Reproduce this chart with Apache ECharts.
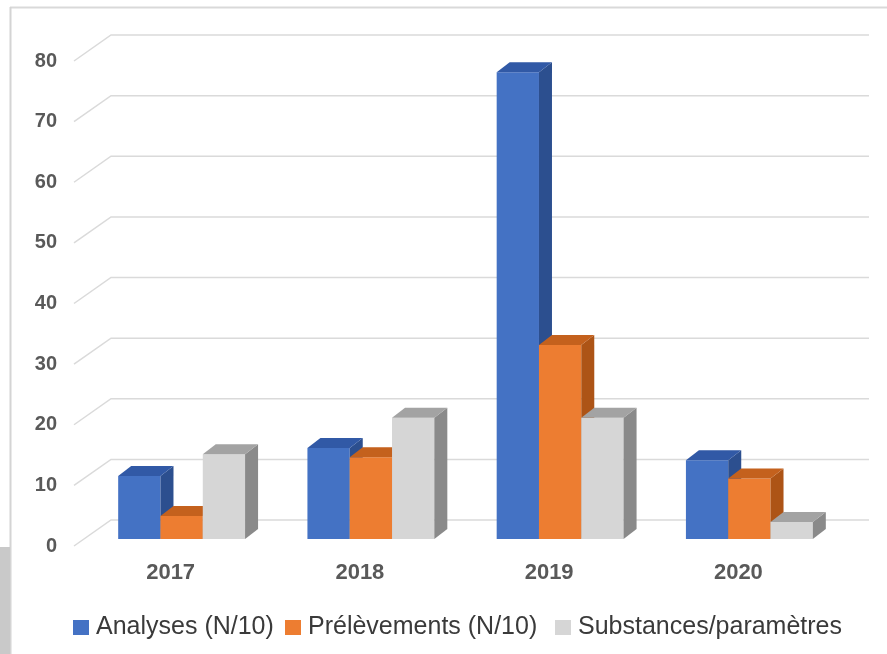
<!DOCTYPE html>
<html>
<head>
<meta charset="utf-8">
<script src="https://cdn.jsdelivr.net/npm/echarts@6/dist/echarts.min.js"></script>
<style>
  html, body { margin: 0; padding: 0; background: #ffffff; }
  #chart { width: 887px; height: 654px; }
</style>
</head>
<body>
<div id="chart"></div>
<script>
// Yearly figures
const categories = ['2017', '2018', '2019', '2020'];
const analyses = [10.4, 15, 77, 13];        // Analyses (N/10)
const prelevements = [3.8, 13.5, 32, 10];   // Prélèvements (N/10)
const substances = [14, 20, 20, 2.8];       // Substances/paramètres
const yTicks = [0, 10, 20, 30, 40, 50, 60, 70, 80];

const seriesNames = ['Analyses (N/10)', 'Prélèvements (N/10)', 'Substances/paramètres'];
const seriesData = [analyses, prelevements, substances];
// front / side / top face colours for each series
const faceColors = [
  { front: '#4472c4', side: '#2c4f8f', top: '#3159a6' },
  { front: '#ed7d31', side: '#ad5416', top: '#c4611d' },
  { front: '#d6d6d6', side: '#8a8a8a', top: '#a3a3a3' }
];
const legendLefts = [73, 285, 555];

const FONT = "'Liberation Sans', Arial, sans-serif";
const DEPTH_X = 13, DEPTH_Y = -10;   // extrusion of each column
const BAR_RATIO = 0.2235;            // column width as share of a category slot

function columnRenderer(seriesIdx) {
  const c = faceColors[seriesIdx];
  return function (params, api) {
    const idx = api.value(0);
    const val = api.value(1);
    const top = api.coord([idx, val]);
    const base = api.coord([idx, 0]);
    const cw = api.size([1, 0])[0];
    const bw = cw * BAR_RATIO;
    const x0 = top[0] - 1.5 * bw + seriesIdx * bw;
    const x1 = x0 + bw;
    const yt = top[1], yb = base[1];
    return {
      type: 'group',
      children: [
        { type: 'rect', shape: { x: x0, y: yt, width: bw, height: yb - yt },
          style: { fill: c.front } },
        { type: 'polygon', shape: { points: [[x1, yt], [x1 + DEPTH_X, yt + DEPTH_Y], [x1 + DEPTH_X, yb + DEPTH_Y], [x1, yb]] },
          style: { fill: c.side } },
        { type: 'polygon', shape: { points: [[x0, yt], [x0 + DEPTH_X, yt + DEPTH_Y], [x1 + DEPTH_X, yt + DEPTH_Y], [x1, yt]] },
          style: { fill: c.top } }
      ]
    };
  };
}

// back-wall grid lines with their receding side segment
function gridRenderer(params, api) {
  const p = api.coord([0, api.value(1)]);
  const cs = params.coordSys;
  const y = p[1];
  return {
    type: 'polyline',
    shape: { points: [[cs.x - 2, y], [cs.x + 35, y - 26], [cs.x + cs.width + 36, y - 26]] },
    style: { stroke: '#dadada', lineWidth: 1.5, fill: null }
  };
}

const chart = echarts.init(document.getElementById('chart'));

const series = [
  {
    type: 'custom',
    name: '__grid',
    xAxisIndex: 1, yAxisIndex: 1,
    data: yTicks.map(v => [0, v]),
    encode: { x: 0, y: 1 },
    renderItem: gridRenderer,
    silent: true,
    z: 1
  }
];
seriesData.forEach((arr, s) => {
  series.push({
    type: 'custom',
    name: seriesNames[s],
    xAxisIndex: 0, yAxisIndex: 0,
    data: arr.map((v, i) => [i, v]),
    encode: { x: 0, y: 1 },
    itemStyle: { color: faceColors[s].front },
    renderItem: columnRenderer(s),
    z: 2 + s
  });
});

// one legend block per series so each entry sits at its own position
const legends = seriesNames.map((name, s) => ({
  data: [name],
  left: legendLefts[s], top: 615, padding: 0,
  icon: 'rect', itemWidth: 16, itemHeight: 15,
  textStyle: { fontSize: 25, color: '#3a3a3a', fontFamily: FONT, padding: [0, 0, 0, 2] }
}));

chart.setOption({
  animation: false,
  backgroundColor: '#ffffff',
  textStyle: { fontFamily: FONT },
  grid: [
    { left: 87, right: 43, top: 54, bottom: 115 },   // column plane
    { left: 76, right: 54, top: 61, bottom: 108 }    // front plane (labels)
  ],
  xAxis: [
    { type: 'category', gridIndex: 0, data: categories, show: false },
    { type: 'category', gridIndex: 1, data: categories,
      axisLine: { show: false }, axisTick: { show: false },
      axisLabel: { fontSize: 22, fontWeight: 'bold', color: '#595959', margin: 16, fontFamily: FONT } }
  ],
  yAxis: [
    { type: 'value', gridIndex: 0, min: 0, max: 80, interval: 10, show: false },
    { type: 'value', gridIndex: 1, min: 0, max: 80, interval: 10,
      axisLine: { show: false }, axisTick: { show: false }, splitLine: { show: false },
      axisLabel: { fontSize: 20, fontWeight: 'bold', color: '#595959', margin: 19, fontFamily: FONT } }
  ],
  legend: legends,
  graphic: [
    { type: 'line', shape: { x1: 10, y1: 7.5, x2: 887, y2: 7.5 }, style: { stroke: '#d9d9d9', lineWidth: 2 }, silent: true },
    { type: 'line', shape: { x1: 10.5, y1: 7, x2: 10.5, y2: 654 }, style: { stroke: '#d4d4d4', lineWidth: 2 }, silent: true },
    { type: 'rect', shape: { x: 0, y: 547, width: 10, height: 107 }, style: { fill: '#c9c9c9' }, silent: true }
  ],
  series: series
});
</script>
</body>
</html>
